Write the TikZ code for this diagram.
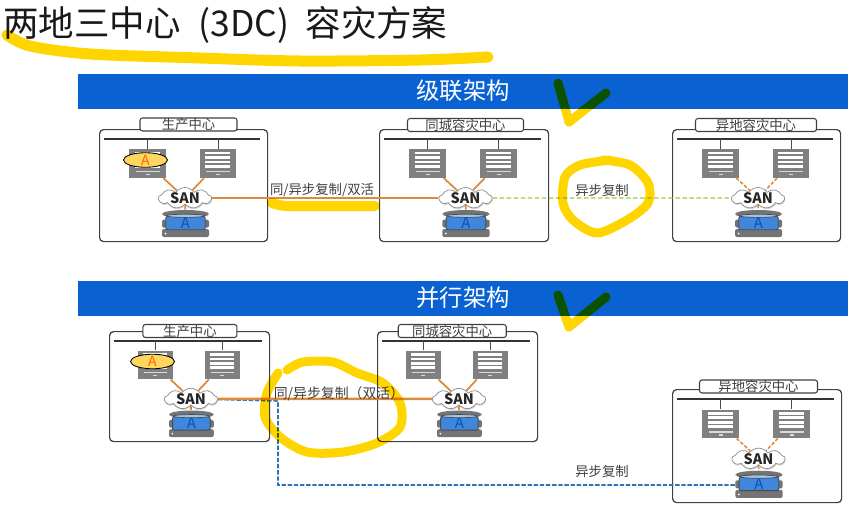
\documentclass[tikz,border=0pt]{standalone}
\usepackage{fontspec}
\setmainfont{Noto Sans CJK SC}
\usetikzlibrary{shapes.geometric,shapes.symbols,shadows}

\definecolor{bannerblue}{HTML}{0A62D2}
\definecolor{srvgray}{HTML}{808080}
\definecolor{diskgray}{HTML}{747474}
\definecolor{diskfill}{HTML}{3F86DC}
\definecolor{disktop}{HTML}{9CC6F0}
\definecolor{appyellow}{HTML}{FFD75E}
\definecolor{linkorange}{HTML}{DE8A3C}
\definecolor{linkgreen}{HTML}{9CCB3B}
\definecolor{linkblue}{HTML}{2E75B6}
\definecolor{hiliteyellow}{HTML}{FFD500}
\definecolor{textgray}{HTML}{404040}

\tikzset{
	banner/.style={fill=bannerblue,minimum width=15.4cm,minimum height=0.7cm,inner sep=0pt,text=white,font=\fontsize{13.3}{15}\selectfont},
	sitebox/.style={draw=black!75,line width=0.7pt,rounded corners=0.08cm,fill=white},
	sitetitle/.style={draw=black!75,line width=0.6pt,rounded corners=0.05cm,fill=white,inner sep=0pt,minimum height=0.26cm,text=textgray,font=\fontsize{7.6}{9}\selectfont},
	sitebar/.style={fill=black!80,inner sep=0pt,minimum height=1.3pt},
	stem/.style={draw=black!70,line width=0.5pt},
	serverbox/.style={fill=srvgray,inner sep=0pt},
	srvstripe/.style={draw=white,line width=1.7pt},
	srvthin/.style={draw=white!85!black,line width=0.7pt},
	sancloud/.style={cloud,cloud puffs=9,cloud puff arc=110,aspect=2.6,draw=black!45,line width=0.4pt,fill=white,inner sep=0pt,minimum width=1.06cm,minimum height=0.42cm,drop shadow={shadow xshift=0.3pt,shadow yshift=-0.8pt,opacity=0.3}},
	santext/.style={inner sep=0pt,font=\fontsize{8.2}{9}\selectfont\bfseries,text=black!85},
	diskbody/.style={inner sep=0pt},
	diskslab/.style={fill=diskgray},
	diskblue/.style={draw=black!70,line width=0.5pt,fill=diskfill,rounded corners=0.04cm,inner sep=0pt,text=bannerblue!85!black,font=\fontsize{8.5}{9}\selectfont},
	appellipse/.style={ellipse,draw=black,line width=0.5pt,fill=appyellow,inner sep=0pt,minimum width=0.88cm,minimum height=0.29cm,text=orange!80!red,font=\fontsize{8}{9}\selectfont},
	orangelink/.style={draw=linkorange,line width=1pt},
	orangedash/.style={draw=linkorange,line width=0.9pt,dash pattern=on 2pt off 1pt},
	greenlink/.style={draw=linkgreen,line width=0.8pt,dash pattern=on 2.5pt off 1.5pt},
	bluelink/.style={draw=linkblue,line width=0.9pt,dash pattern=on 2.5pt off 1pt},
	linklabel/.style={inner sep=0pt,text=textgray,font=\fontsize{7.6}{9}\selectfont},
	hilite/.style={draw=hiliteyellow,line width=0.18cm,line cap=round,line join=round},
}

% one server rack: name, x, y, width of site
\newcommand{\dcserver}[4]{
	\node[serverbox,minimum width=#4*0.22*0.02cm,minimum height=0.57cm] (#1) at (#2,#3) {};
	\foreach \dy in {-10.5,-6,-1.5,3}
		\draw[srvstripe] (#1) ++(-13,\dy) -- ++(25,0);
	\draw[srvthin] (#1) ++(-12,8) -- ++(24,0);
	\draw[srvthin] (#1) ++(-2,11) -- ++(4,0);
}

% one data center: id, x, y, w, h, title position, title width, title, link style
\newcommand{\dcsite}[9]{
	\begin{scope}[shift={(#2,#3)},x={#4/168*0.02cm},y={-#5/112*0.02cm}]
		\node[sitebox,anchor=north west,inner sep=0pt,minimum width=#4*0.02cm,minimum height=#5*0.02cm] (#1box) at (0,0) {};
		\node[sitetitle,minimum width=#7*0.02cm] (#1title) at (#6) {#8};
		\node[sitebar,minimum width=#4*0.93*0.02cm] (#1bar) at (83,10) {};
		\dcserver{#1srvA}{48.5}{34.5}{#4}
		\dcserver{#1srvB}{119}{34.5}{#4}
		\draw[stem] (#1srvA.north) -- (#1srvA.north |- #1bar);
		\draw[stem] (#1srvB.north) -- (#1srvB.north |- #1bar);
		\node[sancloud] (#1san) at (86,69) {};
		\node[santext] (#1santext) at (86,69.5) {SAN};
		\node[diskbody,minimum width=#4*0.28*0.02cm,minimum height=0.54cm] (#1disk) at (86.5,94.5) {};
		\fill[diskslab] (#1disk) ++(0,-9.5) ellipse [x radius=23.5,y radius=4];
		\fill[diskslab,rounded corners=0.03cm] (#1disk) ++(-23.5,-4) rectangle ++(47,8);
		\fill[diskslab,rounded corners=0.04cm] (#1disk) ++(-23.5,5.5) rectangle ++(47,8);
		\fill[white] (#1disk) ++(-20,10) circle [radius=1];
		\node[diskblue,minimum width=#4*0.235*0.02cm,minimum height=0.27cm] (#1diskA) at (86.5,94) {A};
		\draw[draw=black!70,line width=0.4pt,fill=disktop] (#1diskA.north) ellipse [x radius=19,y radius=1.6];
		\draw[#9] (#1srvA) -- (#1san);
		\draw[#9] (#1srvB) -- (#1san);
		\draw[#9] (#1san) -- (#1disk);
	\end{scope}
}

\begin{document}
\begin{tikzpicture}[x=0.02cm,y=-0.02cm]
	\useasboundingbox (0,0) rectangle (868,504);
	\fill[white] (0,0) rectangle (868,504);

	\node[anchor=west,inner sep=0pt,text=black!90,font=\fontsize{20.2}{24}\selectfont] (maintitle) at (3,25) {两地三中心\hspace{0.36cm}(3DC)\hspace{0.32cm}容灾方案};

	% cascade
	\node[banner] (bannerA) at (463,91) {级联架构};
	\dcsite{a}{99}{129}{168}{112}{89.5,-4.5}{97}{生产中心}{orangelink}
	\dcsite{b}{379}{129}{169}{112}{86,-4}{116}{同城容灾中心}{orangelink}
	\dcsite{c}{672}{129}{168}{112}{84,-4}{121}{异地容灾中心}{orangedash}
	\node[appellipse] (aapp) at (145.5,160) {A};
	\draw[orangelink] (asan) -- (bsan);
	\draw[greenlink] (bsan) -- (csan);
	\node[linklabel] (labelAB) at (322,190) {同/异步复制/双活};
	\node[linklabel] (labelBC) at (602,190) {异步复制};

	% parallel
	\node[banner] (bannerB) at (463,298) {并行架构};
	\dcsite{d}{109}{331}{160}{110}{85,0}{94}{生产中心}{orangelink}
	\dcsite{e}{377}{331}{160}{110}{79,0}{108}{同城容灾中心}{orangelink}
	\dcsite{f}{672}{389}{169}{113}{86,-2.5}{118}{异地容灾中心}{orangedash}
	\node[appellipse] (dapp) at (152.5,361.5) {A};
	\coordinate (bendtop) at (278,401);
	\coordinate (bendlow) at (278,485);
	\draw[bluelink] (dsan) -- (bendtop) -- (bendlow) -- (bendlow -| fdisk.west);
	\draw[orangelink,line width=1.4pt] (dsan) -- (esan);
	\node[linklabel,font=\fontsize{7.9}{9}\selectfont] (labelDE) at (339,394) {同/异步复制（双活）};
	\node[linklabel] (labelDF) at (602,471) {异步复制};

	% yellow pen strokes
	\begin{scope}[blend mode=multiply]
		\draw[hilite,line width=0.22cm] plot[smooth] coordinates {(7,35) (30,46) (90,54) (200,58) (300,61) (420,60) (488,57)};
		\draw[hilite,line width=0.2cm] plot[smooth] coordinates {(272,203) (287,206) (330,206) (375,206)};
		\draw[hilite] (558,83) -- (569,122) -- (606,93);
		\draw[hilite] (558,295) -- (569,327) -- (606,297);
		\draw[hilite] plot[smooth] coordinates {(603,160) (630,165) (648,183) (648,203) (627,220) (597,233) (573,220) (563,203) (565,177) (580,165) (610,160)};
		\draw[hilite] plot[smooth] coordinates {(287,370) (303,362) (333,362) (357,373) (383,383) (400,403) (400,427) (377,443) (343,452) (307,452) (280,437) (265,417) (267,393) (278,373)};
	\end{scope}
\end{tikzpicture}
\end{document}
